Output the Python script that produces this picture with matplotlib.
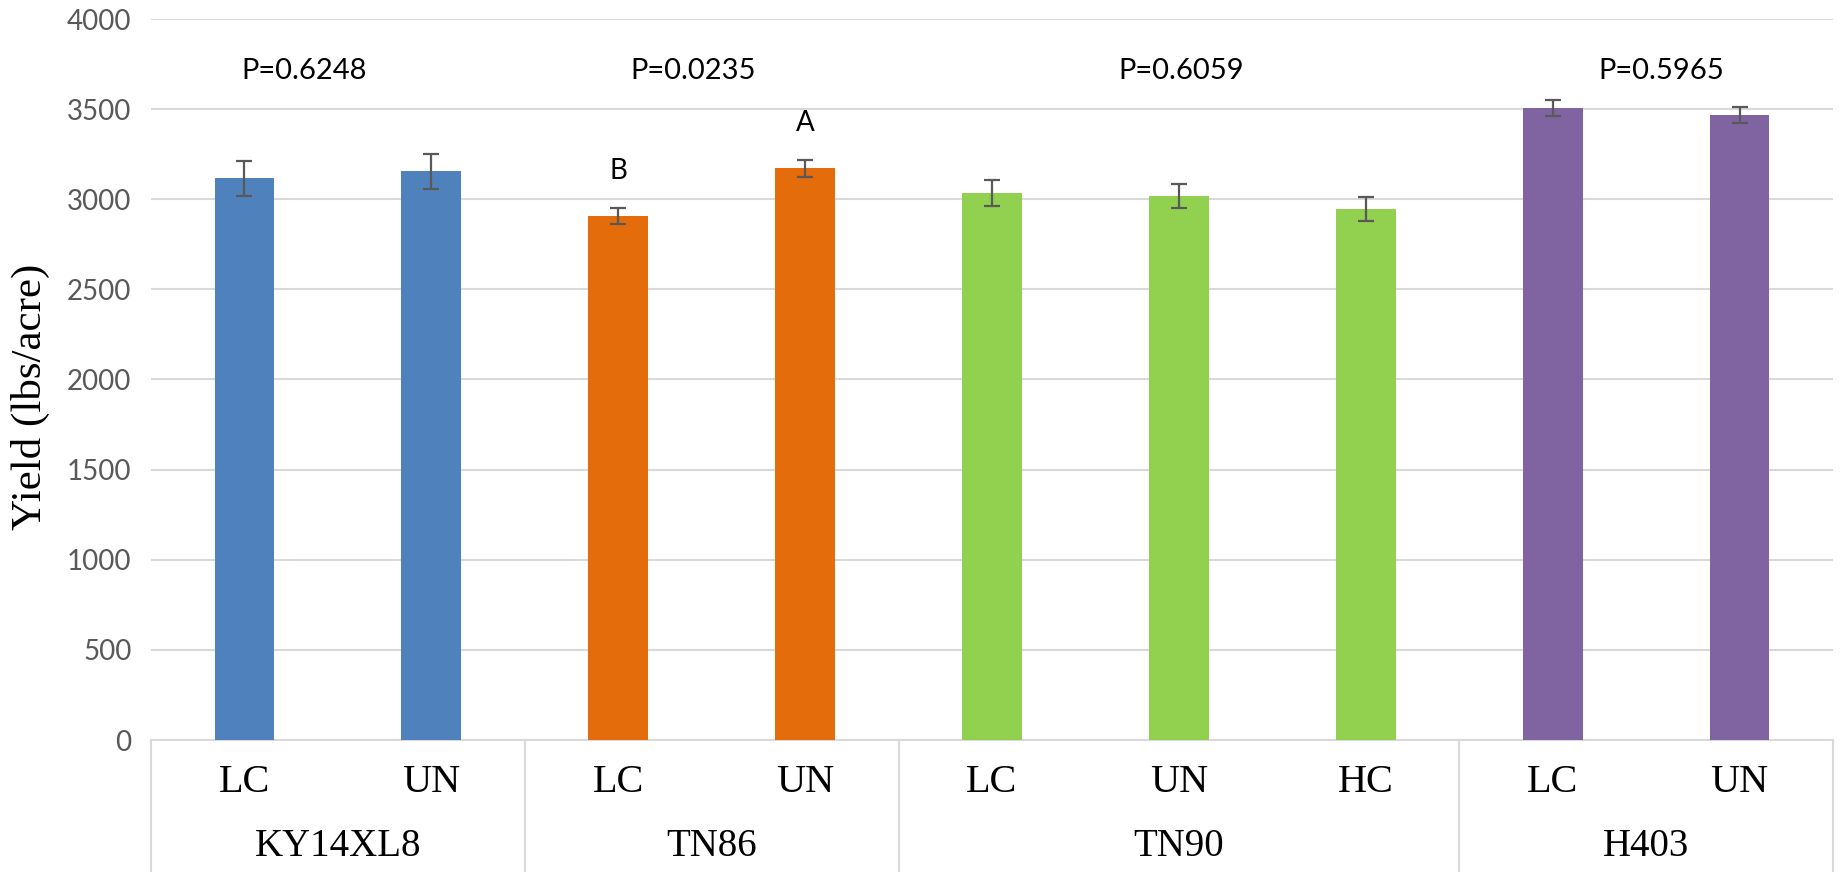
"""grouped yield bar chart with category table below"""
import matplotlib
matplotlib.use("Agg")
import matplotlib.pyplot as plt
import matplotlib.transforms as mtransforms

# data
groups = ["KY14XL8", "TN86", "TN90", "H403"]
group_sizes = [2, 2, 3, 2]
treatments = ["LC", "UN", "LC", "UN", "LC", "UN", "HC", "LC", "UN"]
yield_means = [3116, 3155, 2907, 3173, 3035, 3018, 2946, 3506, 3467]
yield_err = [96, 97, 46, 47, 70, 67, 67, 45, 44]
p_values = ["P=0.6248", "P=0.0235", "P=0.6059", "P=0.5965"]
letters = {2: "B", 3: "A"}

group_colors = ["#4f81bd", "#e46c0a", "#92d050", "#8064a2"]
p_x = [0.32, 2.40, 5.01, 7.58]
p_y = 3710

W, H = 1849, 872
fig = plt.figure(figsize=(W / 100, H / 100), dpi=100)
ax = fig.add_axes([151 / W, (H - 740) / H, (1833 - 151) / W, (740 - 19) / H])

colors = []
for g, n in enumerate(group_sizes):
    colors += [group_colors[g]] * n

x = list(range(len(treatments)))
ax.bar(x, yield_means, width=0.32, color=colors, zorder=3)
ax.errorbar(x, yield_means, yerr=yield_err, fmt="none", ecolor="#595959",
            elinewidth=1.6, capsize=6, capthick=1.6, zorder=4)

ax.set_xlim(-0.5, len(treatments) - 0.5)
ax.set_ylim(0, 4000)
ax.set_yticks(range(0, 4001, 500))
ax.yaxis.grid(True, color="#d9d9d9", linewidth=1.5, zorder=0)
ax.tick_params(axis="y", length=0, pad=14, labelsize=20, labelcolor="#595959")
for lab in ax.get_yticklabels():
    lab.set_family("Lato")
ax.set_xticks([])
for s in ["top", "right", "left"]:
    ax.spines[s].set_visible(False)
ax.spines["bottom"].set_color("#d9d9d9")
ax.spines["bottom"].set_linewidth(1.5)

fig.text(30 / W, 1 - 397 / H, "Yield (lbs/acre)", rotation=90, ha="center", va="center",
         family="Liberation Serif", fontsize=31)

# p-values and letters
for txt, px in zip(p_values, p_x):
    ax.text(px, p_y, txt, ha="center", va="center", fontsize=21, family="Lato")
for i, let in letters.items():
    ax.text(i, yield_means[i] + yield_err[i] + 205, let, ha="center", va="center",
            fontsize=20, family="Lato")

# category table below the axis
trans = mtransforms.blended_transform_factory(ax.transData, ax.transAxes)
table_bottom = -(H - 740) / (740 - 19)
row1 = -(782 - 740) / (740 - 19)
row2 = -(846 - 740) / (740 - 19)
edges = [-0.5]
for n in group_sizes:
    edges.append(edges[-1] + n)
for e in edges:
    ax.plot([e, e], [0, table_bottom], transform=trans, color="#d9d9d9",
            linewidth=1.5, clip_on=False)
for i, t in enumerate(treatments):
    ax.text(i, row1, t, transform=trans, ha="center", va="center",
            family="Liberation Serif", fontsize=29)
for g, name in enumerate(groups):
    cx = (edges[g] + edges[g + 1]) / 2
    ax.text(cx, row2, name, transform=trans, ha="center", va="center",
            family="Liberation Serif", fontsize=28)

fig.savefig("out.png", dpi=100)
